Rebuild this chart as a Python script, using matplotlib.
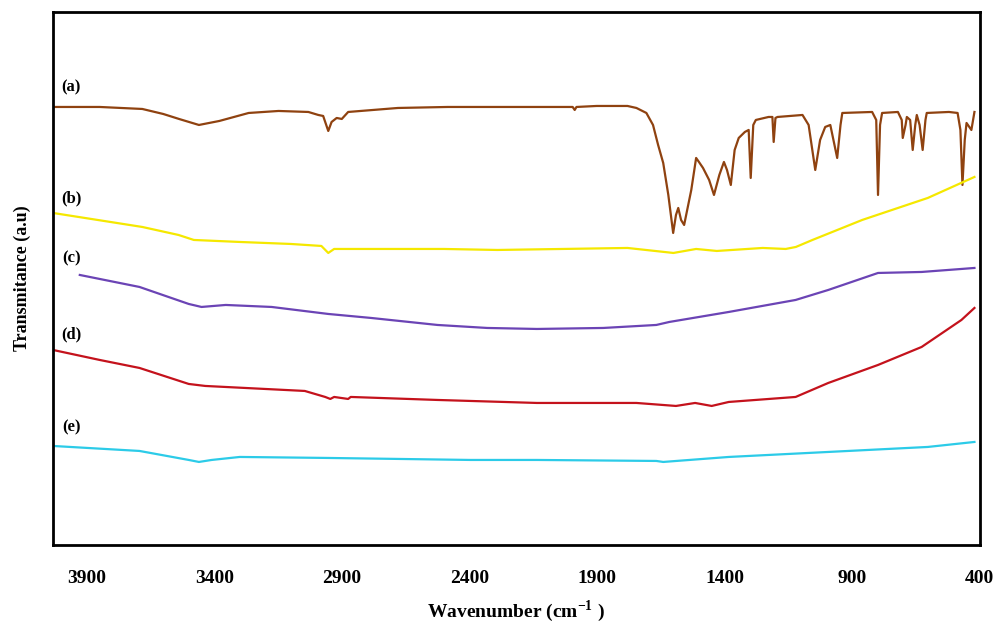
import matplotlib.pyplot as plt

plt.rcParams['font.family'] = ['Liberation Serif', 'DejaVu Serif']
plt.rcParams['mathtext.fontset'] = 'custom'
plt.rcParams['mathtext.rm'] = 'Liberation Serif:bold'
plt.rcParams['mathtext.bf'] = 'Liberation Serif:bold'

# FTIR spectra, transmittance in arbitrary units (vertically offset curves)
wn_a = [4032, 3849, 3682, 3600, 3538, 3460, 3380, 3265, 3148, 3031, 2992, 2973,
        2953, 2940, 2920, 2900, 2875, 2680, 2485, 2291, 1995, 1987, 1980, 1901,
        1780, 1745, 1706, 1680, 1660, 1640, 1620, 1601, 1590, 1581, 1570, 1558,
        1530, 1511, 1500, 1484, 1460, 1441, 1420, 1402, 1390, 1375, 1360, 1344,
        1320, 1305, 1297, 1287, 1277, 1227, 1212, 1207, 1200, 1192, 1094, 1070,
        1044, 1025, 1005, 985, 958, 945, 938, 821, 805, 798, 790, 782, 720, 705,
        701, 690, 685, 672, 662, 652, 646, 635, 623, 612, 607, 520, 486, 475,
        467, 458, 451, 432, 420]
t_a = [438, 438, 436, 431, 426, 420, 424, 432, 434, 433, 430, 429,
       414, 423, 427, 426, 433, 437, 438, 438, 438, 435, 438, 439,
       439, 437, 432, 420, 400, 382, 350, 312, 330, 337, 325, 320,
       355, 387, 383, 377, 365, 350, 370, 383, 375, 360, 395, 407,
       413, 415, 367, 420, 425, 428, 428, 403, 427, 428, 430, 420,
       375, 405, 418, 420, 387, 420, 432, 433, 425, 350, 420, 432, 433, 425,
       407, 420, 428, 425, 395, 420, 430, 420, 395, 425, 432, 433, 432, 415,
       360, 405, 422, 415, 433]

wn_b = [4032, 3682, 3540, 3480, 3300, 3100, 2980, 2953, 2930, 2914, 2500, 2290,
        1780, 1600, 1511, 1430, 1250, 1160, 1120, 1055, 860, 603, 420]
t_b = [332, 318, 310, 305, 303, 301, 299, 292, 296, 296, 296, 295,
       297, 292, 296, 294, 297, 296, 298, 305, 325, 347, 368]

wn_c = [3927, 3693, 3500, 3450, 3355, 3175, 2953, 2785, 2525, 2330, 2135, 1875,
        1667, 1616, 1383, 1121, 993, 798, 627, 471, 420]
t_c = [270, 258, 241, 238, 240, 238, 231, 227, 220, 217, 216, 217,
       220, 223, 233, 245, 255, 272, 273, 276, 277]

wn_d = [4032, 3849, 3693, 3500, 3435, 3045, 2965, 2945, 2930, 2875, 2865, 2525,
        2135, 1745, 1590, 1515, 1450, 1383, 1121, 993, 798, 627, 471, 420]
t_d = [195, 185, 177, 161, 159, 154, 148, 146, 148, 146, 148, 145,
       142, 142, 139, 142, 139, 143, 148, 162, 180, 198, 225, 237]

wn_e = [4032, 3693, 3500, 3460, 3410, 3300, 2953, 2395, 2135, 1667, 1640, 1383,
        993, 603, 420]
t_e = [99, 94, 85, 83, 85, 88, 87, 85, 85, 84, 83, 88, 93, 98, 103]

labels = ['(a)', '(b)', '(c)', '(d)', '(e)']
label_y = [458, 347, 287, 211, 118]
colors = ['#8f4210', '#f5e800', '#6b44b5', '#c4121c', '#2ccbe8']

fig = plt.figure(figsize=(10.06, 6.3), dpi=100)
ax = fig.add_axes([0.0527, 0.135, 0.921, 0.846])

series = [(wn_a, t_a), (wn_b, t_b), (wn_c, t_c), (wn_d, t_d), (wn_e, t_e)]
for (x, y), c in zip(series, colors):
    ax.plot(x, y, color=c, linewidth=1.6)

for lab, ly in zip(labels, label_y):
    ax.text(3960, ly, lab, fontsize=12, fontweight='bold', ha='center', va='center')

ax.set_xlim(4032, 415)
ax.set_ylim(0, 533)
ax.set_xticks([3900, 3400, 2900, 2400, 1900, 1400, 900, 400])
ax.set_yticks([])
ax.tick_params(axis='x', length=0, pad=18, labelsize=14)
for t in ax.get_xticklabels():
    t.set_fontweight('bold')
for s in ax.spines.values():
    s.set_linewidth(2)

ax.set_xlabel('Wavenumber (cm$^{\\mathrm{-1}}$ )', fontsize=14, fontweight='bold', labelpad=8)
ax.set_ylabel('Transmitance (a.u)', fontsize=13, fontweight='bold', labelpad=16)

fig.savefig('out.png', dpi=100)
